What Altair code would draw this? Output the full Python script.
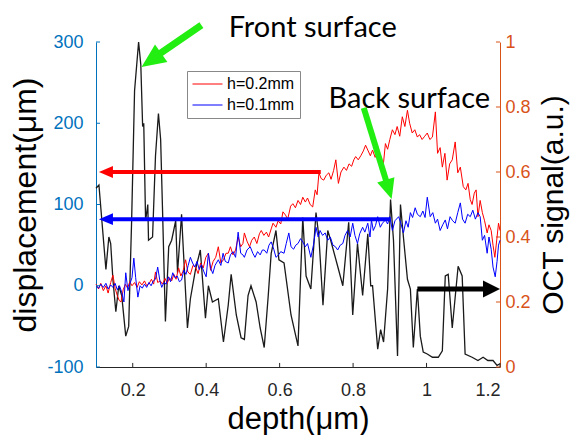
import altair as alt
import pandas as pd

# ---------------- data ----------------
red_x = [0.100,0.107,0.113,0.120,0.127,0.133,0.140,0.146,0.152,0.158,0.163,0.168,0.174,0.180,0.186,0.192,0.198,
         0.205,0.212,0.218,0.225,0.232,0.238,0.245,0.251,0.257,0.262,0.268,0.275,0.281,0.288,0.294,0.300,0.306,
         0.312,0.318,0.325,0.331,0.337,0.344,0.350,0.357,0.364,0.371,0.378,0.385,0.392,0.399,0.406,0.412,0.419,
         0.426,0.433,0.440,0.447,0.454,0.460,0.466,0.473,0.480,0.487,0.494,0.500,0.504,0.511,0.518,0.524,0.531,
         0.538,0.545,0.550,0.557,0.564,0.570,0.577,0.582,0.590,0.596,0.603,0.609,0.616,0.622,0.630,0.636,0.643,
         0.650,0.657,0.663,0.670,0.676,0.683,0.690,0.697,0.702,0.707,0.713,0.720,0.727,0.734,0.740,0.747,0.753,
         0.760,0.767,0.775,0.782,0.789,0.796,0.802,0.807,0.814,0.821,0.828,0.834,0.840,0.847,0.853,0.860,0.867,
         0.874,0.880,0.883,0.888,0.894,0.900,0.907,0.914,0.920,0.927,0.934,0.941,0.948,0.954,0.961,0.968,0.975,
         0.981,0.988,0.995,1.002,1.009,1.016,1.024,1.030,1.037,1.043,1.050,1.056,1.063,1.070,1.078,1.085,1.092,
         1.100,1.107,1.113,1.119,1.124,1.130,1.135,1.140,1.146,1.152,1.158,1.165,1.170,1.176,1.181,1.186,1.192,
         1.196,1.200]
red_y = [2,-4,3,-6,0,-9,4,13,-3,-12,-18,-20,-5,2,-3,5,0,
         4,-2,5,1,6,0,3,8,2,17,4,6,2,9,3,10,6,
         14,8,22,12,18,32,17,14,25,23,15,28,22,35,40,19,30,
         35,48,28,32,40,40,48,38,44,60,48,52,65,55,48,56,60,
         52,64,68,62,66,60,70,77,72,80,76,91,87,82,98,101,96,
         105,100,109,103,108,100,97,118,112,139,132,130,136,139,131,142,155,
         126,140,146,142,150,147,155,159,155,160,166,173,167,160,167,158,164,
         158,148,152,175,168,180,192,186,196,184,208,196,216,200,188,192,183,
         186,180,184,188,180,183,214,163,170,146,163,130,150,155,177,139,146,
         122,118,126,106,100,114,118,85,105,90,80,65,75,68,50,35,60,
         77,68]

blue_x = [0.100,0.107,0.113,0.120,0.127,0.133,0.140,0.146,0.152,0.158,0.164,0.170,0.176,0.181,0.187,0.192,0.198,
          0.203,0.208,0.214,0.220,0.226,0.232,0.238,0.244,0.250,0.256,0.262,0.268,0.274,0.279,0.285,0.291,0.297,
          0.303,0.309,0.315,0.321,0.327,0.333,0.339,0.345,0.351,0.357,0.363,0.369,0.375,0.381,0.387,0.393,0.400,
          0.406,0.412,0.418,0.424,0.433,0.440,0.446,0.452,0.460,0.466,0.473,0.480,0.487,0.494,0.500,0.504,0.511,
          0.520,0.527,0.533,0.540,0.547,0.553,0.558,0.565,0.571,0.577,0.584,0.590,0.597,0.603,0.612,0.618,0.625,
          0.631,0.638,0.644,0.650,0.657,0.663,0.670,0.676,0.685,0.692,0.699,0.705,0.710,0.717,0.724,0.731,0.738,
          0.745,0.752,0.758,0.765,0.772,0.778,0.785,0.792,0.799,0.805,0.812,0.818,0.826,0.832,0.840,0.846,0.850,
          0.855,0.861,0.867,0.874,0.880,0.888,0.894,0.900,0.907,0.914,0.924,0.930,0.937,0.944,0.950,0.956,0.962,
          0.969,0.975,0.983,0.990,0.996,1.002,1.010,1.017,1.024,1.030,1.037,1.044,1.051,1.057,1.064,1.071,1.078,
          1.085,1.092,1.098,1.105,1.112,1.119,1.126,1.133,1.140,1.146,1.152,1.158,1.165,1.170,1.176,1.181,1.187,
          1.192,1.196,1.200]
blue_y = [0,-3,2,-2,3,-4,1,-2,3,-5,0,-8,-20,16,-6,2,10,
          34,10,-14,0,-3,2,-2,4,0,6,8,23,6,-2,4,2,11,
          5,16,10,12,5,7,19,14,25,35,28,23,30,20,26,18,11,
          40,22,15,25,32,25,40,30,28,38,42,35,66,40,38,35,44,
          48,40,35,42,38,44,44,40,50,54,45,35,38,42,40,52,65,
          48,45,50,52,58,54,48,52,35,50,72,60,68,62,65,56,60,
          50,48,44,50,52,62,68,60,77,62,52,64,72,66,77,60,81,
          68,74,85,72,77,81,76,85,68,80,85,77,65,80,72,90,84,
          96,88,85,92,84,109,85,90,77,82,68,75,81,70,85,80,77,
          90,102,82,77,88,85,93,82,90,85,56,62,40,60,45,23,11,
          30,50,56]

oct_x = [0.100,0.108,0.116,0.127,0.135,0.140,0.146,0.154,0.162,0.170,0.181,0.189,0.197,0.205,0.216,0.222,0.227,
         0.230,0.235,0.241,0.243,0.254,0.262,0.270,0.276,0.281,0.289,0.298,0.306,0.317,0.322,0.333,0.336,0.349,
         0.357,0.371,0.384,0.398,0.406,0.417,0.433,0.447,0.460,0.468,0.482,0.495,0.504,0.514,0.522,0.536,0.547,
         0.558,0.569,0.577,0.590,0.598,0.612,0.631,0.650,0.663,0.672,0.685,0.699,0.707,0.718,0.731,0.739,0.758,
         0.772,0.788,0.799,0.812,0.826,0.840,0.848,0.853,0.867,0.875,0.883,0.894,0.902,0.910,0.921,0.929,0.937,
         0.948,0.956,0.964,0.975,0.983,0.991,1.002,1.016,1.032,1.043,1.051,1.059,1.070,1.086,1.097,1.105,1.124,
         1.140,1.154,1.167,1.181,1.192,1.200]
oct_y = [0.55,0.56,0.45,0.30,0.40,0.38,0.27,0.17,0.25,0.22,0.095,0.125,0.45,0.85,1.0,0.93,0.74,
         0.75,0.45,0.50,0.39,0.40,0.65,0.78,0.70,0.49,0.14,0.37,0.39,0.45,0.29,0.47,0.40,0.12,
         0.21,0.30,0.36,0.15,0.25,0.20,0.21,0.077,0.19,0.285,0.16,0.09,0.085,0.22,0.25,0.20,0.12,
         0.06,0.22,0.35,0.42,0.33,0.32,0.16,0.065,0.46,0.28,0.24,0.475,0.40,0.19,0.42,0.39,0.31,
         0.25,0.445,0.16,0.38,0.22,0.41,0.25,0.25,0.055,0.115,0.077,0.24,0.515,0.39,0.034,0.50,0.40,
         0.27,0.24,0.06,0.24,0.095,0.046,0.04,0.03,0.03,0.05,0.28,0.285,0.12,0.31,0.28,0.04,0.03,
         0.02,0.03,0.02,0.02,0.005,0.01]

series_names = ["h=0.2mm", "h=0.1mm"]
series_colors = ["#ff0000", "#0000ff"]
x_ticks = [0.2, 0.4, 0.6, 0.8, 1, 1.2]
left_ticks = [-100, 0, 100, 200, 300]
right_ticks = [0, 0.2, 0.4, 0.6, 0.8, 1]

# annotation arrows (data coordinates)
harrow_x = [0.712, 0.902]
harrow_x2 = [0.132, 0.132]
harrow_tip = [0.108, 0.108]
harrow_v = [140, 82]
harrow_col = ["#ff0000", "#0000ff"]

oct_arrow_x, oct_arrow_x2, oct_arrow_tip, oct_arrow_v = 0.975, 1.17, 1.2, 0.24

green_x = [0.387, 0.829]
green_v = [320.9, 218.8]
green_x2 = [0.265, 0.891]
green_v2 = [282.8, 127.7]
green_tip_x = [0.224, 0.905]
green_tip_v = [269.2, 106.8]
green_angle = [145, 73]
green_size = [576, 400]
green_w = [7, 6]

label_text = ["Front surface", "Back surface"]
label_x = [0.690, 0.953]
label_v = [306.4, 218.8]

# inward tick length (MATLAB style), in data units of each axis
X_MIN, X_MAX, Y_MIN = 0.1, 1.2, -100
TICK_X, TICK_V = 0.011, 5.0

# ---------------- frames ----------------
lines_df = pd.concat([
    pd.DataFrame({"x": red_x, "v": red_y, "series": series_names[0]}),
    pd.DataFrame({"x": blue_x, "v": blue_y, "series": series_names[1]}),
])
oct_df = pd.DataFrame({"x": oct_x, "o": oct_y})
harrow_df = pd.DataFrame({"x": harrow_x, "x2": harrow_x2, "v": harrow_v, "col": harrow_col})
hhead_df = pd.DataFrame({"x": harrow_tip, "v": harrow_v, "col": harrow_col})
oarrow_df = pd.DataFrame({"x": [oct_arrow_x], "x2": [oct_arrow_x2], "o": [oct_arrow_v]})
ohead_df = pd.DataFrame({"x": [oct_arrow_tip], "o": [oct_arrow_v]})
green_df = pd.DataFrame({"x": green_x, "v": green_v, "x2": green_x2, "v2": green_v2, "w": green_w})
ghead_df = pd.DataFrame({"x": green_tip_x, "v": green_tip_v, "ang": green_angle, "sz": green_size})
label_df = pd.DataFrame({"x": label_x, "v": label_v, "t": label_text})
lt_df = pd.DataFrame({"x": X_MIN, "x2": X_MIN + TICK_X, "v": left_ticks})
bt_df = pd.DataFrame({"x": x_ticks, "v": Y_MIN, "v2": Y_MIN + TICK_V})
rt_df = pd.DataFrame({"x": X_MAX - TICK_X, "x2": X_MAX, "o": right_ticks})

AX_FONT = "Liberation Sans"

x_axis = alt.Axis(values=x_ticks, labelExpr="'' + datum.value", title="depth(μm)", ticks=False,
                  labelPadding=14, titlePadding=5, labelFontSize=18, titleFontSize=31,
                  labelColor="#262626", domainColor="#262626", titleColor="#000000",
                  titleFontWeight="normal", labelFont=AX_FONT, titleFont=AX_FONT, grid=False)
x_enc = alt.X("x:Q", scale=alt.Scale(domain=[X_MIN, X_MAX], nice=False, zero=False), axis=x_axis)

left_axis = alt.Axis(orient="left", values=left_ticks, labelExpr="'' + datum.value",
                     title="displacement(μm)", ticks=False, labelPadding=13, titlePadding=4,
                     labelFontSize=18, titleFontSize=32, labelColor="#0072bd", domainColor="#0072bd",
                     titleColor="#000000", titleFontWeight="normal", labelFont=AX_FONT, titleFont=AX_FONT,
                     grid=False)
y_left = alt.Y("v:Q", scale=alt.Scale(domain=[-100, 300], nice=False, zero=False), axis=left_axis)

right_axis = alt.Axis(orient="right", values=right_ticks, labelExpr="'' + datum.value",
                      title="OCT signal(a.u.)", ticks=False, labelPadding=5, titlePadding=8,
                      titleAngle=270, titleBaseline="top",
                      labelFontSize=18, titleFontSize=30, labelColor="#d95319", domainColor="#d95319",
                      titleColor="#000000", titleFontWeight="normal", labelFont=AX_FONT, titleFont=AX_FONT,
                      grid=False)
y_right = alt.Y("o:Q", scale=alt.Scale(domain=[0, 1], nice=False, zero=False), axis=right_axis)

legend = alt.Legend(orient="none", legendX=91, legendY=29, title=None, symbolType="M-1,0L3,0",
                    symbolSize=225, symbolStrokeWidth=1, labelFontSize=16, labelFont=AX_FONT,
                    labelColor="#000000", padding=5, labelOffset=19, rowPadding=5,
                    strokeColor="#888888", fillColor="#ffffff")

lines = alt.Chart(lines_df).mark_line(strokeWidth=1).encode(
    x=x_enc, y=y_left,
    color=alt.Color("series:N", scale=alt.Scale(domain=series_names, range=series_colors), legend=legend),
    detail="series:N",
)
harrows = alt.Chart(harrow_df).mark_rule(strokeWidth=4).encode(
    x=x_enc, x2="x2:Q", y=y_left, stroke=alt.Stroke("col:N", scale=None))
hheads = alt.Chart(hhead_df).mark_point(filled=True, opacity=1, strokeWidth=0).encode(
    x=x_enc, y=y_left, fill=alt.Fill("col:N", scale=None),
    shape=alt.value("M0,0L2,-0.85L2,0.85Z"), size=alt.value(196))
greens = alt.Chart(green_df).mark_rule(color="#22ee11").encode(
    x=x_enc, y=y_left, x2="x2:Q", y2="v2:Q", strokeWidth=alt.StrokeWidth("w:Q", scale=None))
gheads = alt.Chart(ghead_df).mark_point(filled=True, opacity=1, strokeWidth=0, color="#22ee11").encode(
    x=x_enc, y=y_left, angle=alt.Angle("ang:Q", scale=None), size=alt.Size("sz:Q", scale=None),
    shape=alt.value("M0,0L-2,-0.9L-2,0.9Z"))
labels = alt.Chart(label_df).mark_text(font="Lato", fontSize=29, color="#000000", align="center",
                                       baseline="alphabetic").encode(x=x_enc, y=y_left, text="t:N")
left_tick_marks = alt.Chart(lt_df).mark_rule(color="#0072bd", strokeWidth=1).encode(
    x=x_enc, x2="x2:Q", y=y_left)
bottom_tick_marks = alt.Chart(bt_df).mark_rule(color="#262626", strokeWidth=1).encode(
    x=x_enc, y=y_left, y2="v2:Q")

left_group = alt.layer(lines, harrows, hheads, greens, gheads, labels, left_tick_marks, bottom_tick_marks)

oct_line = alt.Chart(oct_df).mark_line(strokeWidth=1.3, color="#1a1a1a").encode(x=x_enc, y=y_right)
oarrow = alt.Chart(oarrow_df).mark_rule(strokeWidth=5, color="#000000").encode(x=x_enc, x2="x2:Q", y=y_right)
ohead = alt.Chart(ohead_df).mark_point(filled=True, opacity=1, strokeWidth=0, color="#000000").encode(
    x=x_enc, y=y_right, shape=alt.value("M0,0L-2,-1L-2,1Z"), size=alt.value(289))
right_tick_marks = alt.Chart(rt_df).mark_rule(color="#d95319", strokeWidth=1).encode(
    x=x_enc, x2="x2:Q", y=y_right)
right_group = alt.layer(oct_line, oarrow, ohead, right_tick_marks)

chart = alt.layer(right_group, left_group).resolve_scale(y="independent").properties(
    width=404, height=325,
    padding={"left": 88, "top": 34, "right": 71, "bottom": 68},
    autosize=alt.AutoSizeParams(type="none"),
).configure_view(stroke=None)

chart.save("out.html", embed_options={"renderer": "svg", "actions": False})
